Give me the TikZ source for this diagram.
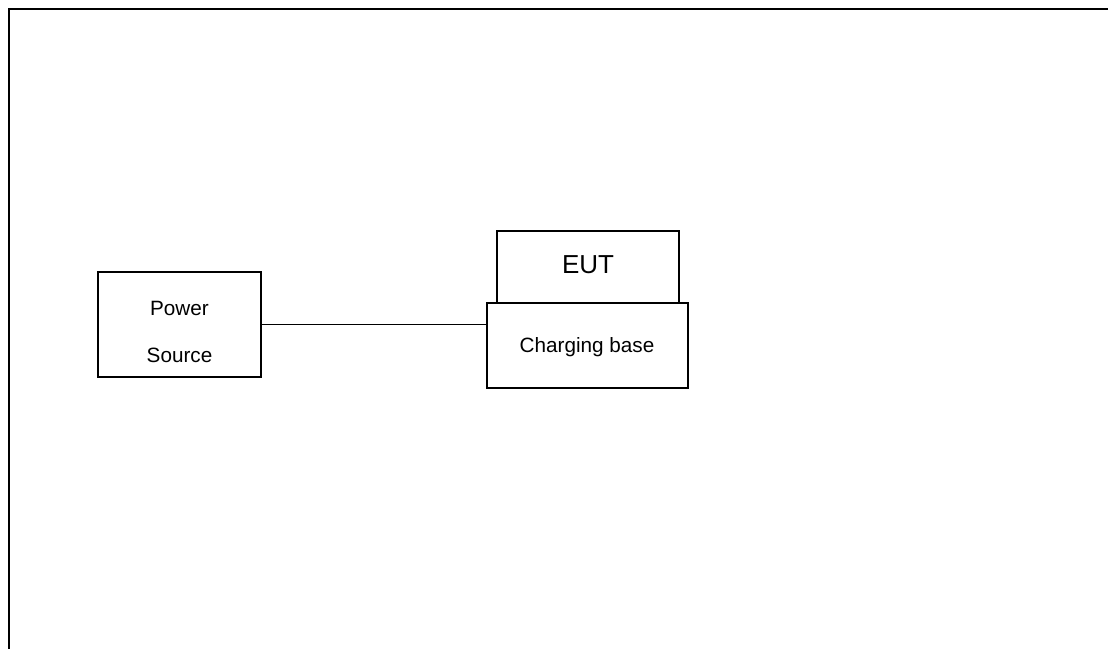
\documentclass[tikz,border=0pt]{standalone}
\usepackage{fontspec}
\setmainfont{Liberation Sans}
\begin{document}
\begin{tikzpicture}[x=1pt,y=-1pt,
  box/.style={draw=black, line width=1.2pt, fill=white, inner sep=0pt},
  lbl/.style={font=\fontsize{20.7}{47}\selectfont, align=center, inner sep=0pt},
  big/.style={font=\fontsize{26}{30}\selectfont, inner sep=0pt}]
\useasboundingbox (0,0) rectangle (1108,648);
\begin{scope}
\clip (0,0) rectangle (1108,648);
\draw[line width=2.2pt] (9,660) -- (9,9) -- (1120,9);
\end{scope}
\node[box, minimum width=163pt, minimum height=105pt] (ps) at (179.5,324.5) {};
\node[lbl] (pst) at (179.5,331.5) {Power\\Source};
\node[box, minimum width=182pt, minimum height=72pt] (eut) at (588,267) {};
\node[big] (eutt) at (588,265) {EUT};
\node[box, minimum width=201pt, minimum height=85pt] (cb) at (587.5,345.5) {};
\node[lbl] (cbt) at (587,347) {Charging base};
\draw[line width=1.2pt] (ps.east) -- (ps.east -| cb.west);
\end{tikzpicture}
\end{document}
